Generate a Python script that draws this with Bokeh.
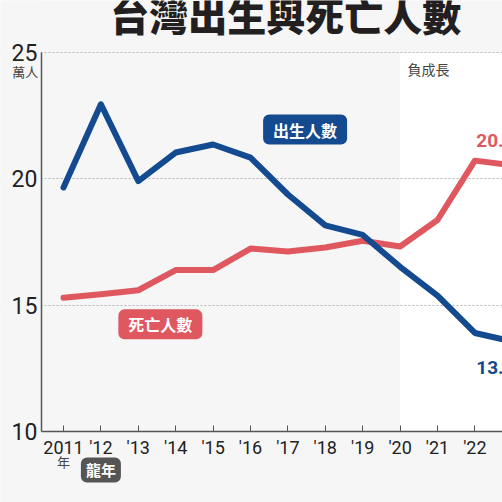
from bokeh.plotting import figure
from bokeh.models import (ColumnDataSource, FixedTicker, Range1d, Label, BoxAnnotation,
                          LinearAxis, Grid)
from bokeh.embed import file_html
from bokeh.resources import INLINE

# ---- data (萬人) ----
years = [2011, 2012, 2013, 2014, 2015, 2016, 2017, 2018, 2019, 2020, 2021, 2022, 2023]
births = [19.66, 22.95, 19.91, 21.04, 21.36, 20.84, 19.38, 18.16, 17.78, 16.52, 15.38, 13.90, 13.56]
deaths = [15.29, 15.43, 15.59, 16.39, 16.39, 17.24, 17.12, 17.28, 17.55, 17.32, 18.37, 20.72, 20.54]
tick_years = [2011, 2012, 2013, 2014, 2015, 2016, 2017, 2018, 2019, 2020, 2021, 2022]
tick_labels = ["2011", "'12", "'13", "'14", "'15", "'16", "'17", "'18", "'19", "'20", "'21", "'22"]
y_ticks = [10, 15, 20, 25]
grid_ticks = [15, 20, 25]
end_birth_label = "13.6"
end_death_label = "20.5"

BLUE = "#134a90"
RED = "#e0585f"
BG = "#f6f6f6"
CJK = "Noto Sans CJK TC"
CJK_HEAVY = "'Noto Sans CJK TC Black', 'Noto Sans CJK TC'"
NUM = "'Liberation Sans Narrow', Roboto, sans-serif"

# axis extents
X_AXIS_START = 2010.41
Y_MIN, Y_MAX = 10, 25

src = ColumnDataSource(dict(year=years, birth=births, death=deaths))

p = figure(width=502, height=502, output_backend="svg", toolbar_location=None,
           x_range=Range1d(2009.3155, 2022.738), y_range=Range1d(7.190, 27.058),
           x_axis_location=None, y_axis_location=None,
           min_border_left=0, min_border_right=0, min_border_top=0, min_border_bottom=0)
p.background_fill_color = BG
p.border_fill_color = BG
p.outline_line_color = None
for g in p.grid:
    g.visible = False

# white "negative growth" region
p.add_layout(BoxAnnotation(left=2020, bottom=Y_MIN, top=Y_MAX, fill_color="white",
                           fill_alpha=1, line_color=None, level="image"))

# dotted horizontal grid
grid = Grid(dimension=1, ticker=FixedTicker(ticks=grid_ticks), grid_line_color="#b5b5b5",
            grid_line_dash="2 2", grid_line_width=1)
p.add_layout(grid)
# hide the grid left of the y axis
p.add_layout(BoxAnnotation(right=X_AXIS_START, fill_color=BG, fill_alpha=1, line_color=None,
                           level="underlay"))

# axes
yaxis = LinearAxis(fixed_location=X_AXIS_START, bounds=(Y_MIN, Y_MAX),
                   ticker=FixedTicker(ticks=y_ticks))
yaxis.major_tick_in = 0
yaxis.major_tick_out = 0
yaxis.minor_tick_line_color = None
yaxis.axis_line_color = "#555555"
yaxis.axis_line_width = 1.5
yaxis.major_label_text_font = NUM
yaxis.major_label_text_font_size = "23px"
yaxis.major_label_text_color = "#222222"
yaxis.major_label_standoff = 4
p.add_layout(yaxis, "left")

xaxis = LinearAxis(fixed_location=Y_MIN, bounds=(X_AXIS_START, 2030),
                   ticker=FixedTicker(ticks=tick_years))
xaxis.major_label_overrides = {y: l for y, l in zip(tick_years, tick_labels)}
xaxis.major_tick_in = 6
xaxis.major_tick_out = 0
xaxis.major_tick_line_color = "#555555"
xaxis.minor_tick_line_color = None
xaxis.axis_line_color = "#555555"
xaxis.axis_line_width = 1.5
xaxis.major_label_text_font = NUM
xaxis.major_label_text_font_size = "18px"
xaxis.major_label_text_color = "#222222"
xaxis.major_label_standoff = 5
p.add_layout(xaxis, "below")

# lines
p.line("year", "death", source=src, line_color=RED, line_width=6, line_join="round", line_cap="round")
p.line("year", "birth", source=src, line_color=BLUE, line_width=6, line_join="round", line_cap="round")

# end values
p.add_layout(Label(x=years[-1], y=deaths[-1], text=end_death_label, x_offset=-36, y_offset=18,
                   text_align="left", text_baseline="bottom", text_font=NUM,
                   text_font_size="19px", text_font_style="bold", text_color=RED))
p.add_layout(Label(x=years[-1], y=births[-1], text=end_birth_label, x_offset=-36, y_offset=-19,
                   text_align="left", text_baseline="top", text_font=NUM,
                   text_font_size="19px", text_font_style="bold", text_color=BLUE))

# series badges
p.add_layout(Label(x=2017.46, y=21.95, text="出生人數", text_align="center", text_baseline="middle",
                   text_font=CJK, text_font_size="16px", text_font_style="bold",
                   text_color="white", background_fill_color=BLUE, padding=(10, 3),
                   border_radius=6))
p.add_layout(Label(x=2013.59, y=14.24, text="死亡人數", text_align="center", text_baseline="middle",
                   text_font=CJK, text_font_size="16px", text_font_style="bold",
                   text_color="white", background_fill_color=RED, padding=(10, 3),
                   border_radius=6))

# other annotations
p.add_layout(Label(x=2020.2, y=24.33, text="負成長", text_align="left", text_baseline="middle",
                   text_font=CJK, text_font_size="14px", text_color="#444444"))
p.add_layout(Label(x=2009.98, y=24.25, text="萬人", text_align="center", text_baseline="middle",
                   text_font=CJK, text_font_size="13px", text_color="#444444"))
p.add_layout(Label(x=2011, y=8.80, text="年", text_align="center", text_baseline="middle",
                   text_font=CJK, text_font_size="13px", text_color="#444444"))
p.add_layout(Label(x=2012, y=8.48, text="龍年", text_align="center", text_baseline="middle",
                   text_font=CJK, text_font_size="15px", text_font_style="bold",
                   text_color="white", background_fill_color="#555555", padding=(5, 2),
                   border_radius=6))

# title
p.add_layout(Label(x=2016.94, y=26.54, text="台灣出生與死亡人數", text_align="center",
                   text_baseline="alphabetic", text_font=CJK_HEAVY, text_font_size="39px",
                   text_font_style="bold", text_color="#231f20"))

open("out.html", "w").write(file_html(p, INLINE))
